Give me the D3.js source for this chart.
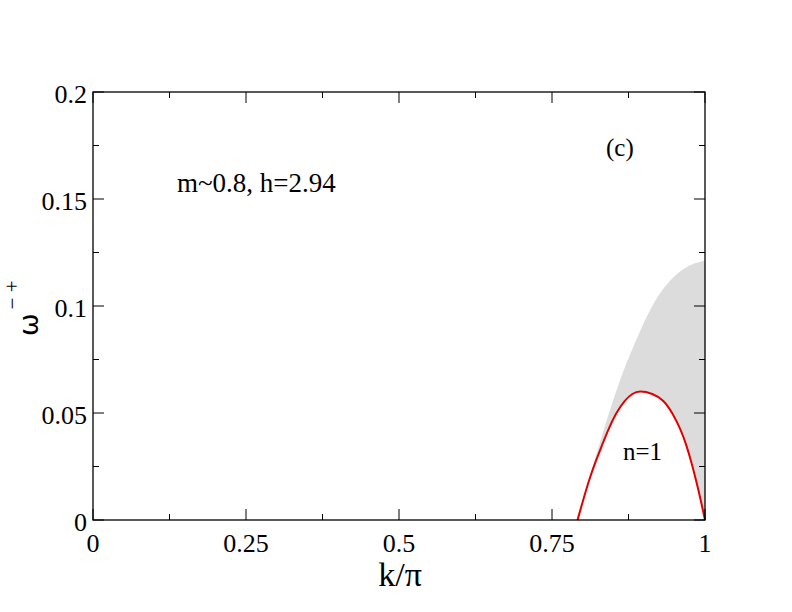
<!DOCTYPE html>
<html>
<head>
<meta charset="utf-8">
<script src="https://cdn.jsdelivr.net/npm/d3@7"></script>
<style>
  body { margin: 0; background: #fff; }
</style>
</head>
<body>
<svg id="main-svg" width="792" height="612" font-family="'Liberation Serif', 'DejaVu Serif', 'Times New Roman', Times, serif"></svg>
<script>
'use strict';

// continuum upper edge (grey band)
const band_k = [0.7917, 0.8106, 0.825, 0.8396, 0.8571, 0.8735, 0.8898, 0.917, 0.9444, 0.9717, 1.0];
const band_w = [0, 0.0195, 0.033, 0.047, 0.0623, 0.0748, 0.0857, 0.1028, 0.1129, 0.1192, 0.1212];

// n=1 string (red)
const n1_k = [0.7917, 0.8025, 0.8106, 0.8200, 0.8309, 0.8417, 0.8543, 0.8690, 0.8817, 0.8925, 0.9144, 0.9324, 0.9471, 0.9607, 0.9705, 0.9782, 0.9853, 0.9918, 1.0];
const n1_w = [0, 0.0109, 0.0187, 0.0265, 0.0343, 0.0421, 0.0499, 0.0561, 0.0592, 0.0604, 0.0592, 0.0561, 0.0499, 0.0421, 0.0343, 0.0265, 0.0187, 0.0109, 0];

const x_ticks = [0, 0.25, 0.5, 0.75, 1];
const x_tick_labels = ['0', '0.25', '0.5', '0.75', '1'];
const y_ticks = [0, 0.05, 0.1, 0.15, 0.2];
const y_tick_labels = ['0', '0.05', '0.1', '0.15', '0.2'];

const margin = {left: 93, right: 87, top: 92, bottom: 92};
const W = 792, H = 612;

const svg = d3.select('#main-svg');

const x = d3.scaleLinear().domain([0, 1]).range([margin.left, W - margin.right]);
const y = d3.scaleLinear().domain([0, 0.2]).range([H - margin.bottom, margin.top]);

const band = band_k.map((k, i) => [k, band_w[i]]);
const n1 = n1_k.map((k, i) => [k, n1_w[i]]);

// grey continuum, then blank out the part under the n=1 string
svg.append('path')
    .datum(band)
    .attr('fill', '#dcdcdc')
    .attr('d', d3.area().x(d => x(d[0])).y0(y(0)).y1(d => y(d[1])).curve(d3.curveBasis));

svg.append('path')
    .datum(n1)
    .attr('fill', '#fff')
    .attr('d', d3.area().x(d => x(d[0])).y0(y(0)).y1(d => y(d[1])).curve(d3.curveBasis));

svg.append('path')
    .datum(n1)
    .attr('fill', 'none')
    .attr('stroke', '#e00000')
    .attr('stroke-width', 2)
    .attr('d', d3.line().x(d => x(d[0])).y(d => y(d[1])).curve(d3.curveBasis));

// frame
svg.append('rect')
    .attr('x', x(0)).attr('y', y(0.2))
    .attr('width', x(1) - x(0)).attr('height', y(0) - y(0.2))
    .attr('fill', 'none').attr('stroke', '#000').attr('stroke-width', 1.3);

// ticks, inward on all four sides
const x_minor = d3.range(0, 1.0001, 0.125);
const y_minor = d3.range(0, 0.2001, 0.025);
const major_len = 11, minor_len = 6;
const is_major = (v, step) => Math.abs(v / step - Math.round(v / step)) < 1e-6;

const ticks = svg.append('g').attr('stroke', '#000').attr('stroke-width', 1);
x_minor.forEach(v => {
    const len = is_major(v, 0.25) ? major_len : minor_len;
    ticks.append('line').attr('x1', x(v)).attr('x2', x(v)).attr('y1', y(0)).attr('y2', y(0) - len);
    ticks.append('line').attr('x1', x(v)).attr('x2', x(v)).attr('y1', y(0.2)).attr('y2', y(0.2) + len);
});
y_minor.forEach(v => {
    const len = is_major(v, 0.05) ? major_len : minor_len;
    ticks.append('line').attr('y1', y(v)).attr('y2', y(v)).attr('x1', x(0)).attr('x2', x(0) + len);
    ticks.append('line').attr('y1', y(v)).attr('y2', y(v)).attr('x1', x(1)).attr('x2', x(1) - len);
});

// tick labels
svg.append('g').selectAll('text')
    .data(x_ticks)
    .enter().append('text')
    .attr('x', d => x(d))
    .attr('y', y(0) + 32)
    .attr('text-anchor', 'middle')
    .attr('font-size', 26)
    .text((d, i) => x_tick_labels[i]);

svg.append('g').selectAll('text')
    .data(y_ticks)
    .enter().append('text')
    .attr('x', x(0) - 6)
    .attr('y', d => y(d) + 10.5)
    .attr('text-anchor', 'end')
    .attr('font-size', 26)
    .text((d, i) => y_tick_labels[i]);

// axis titles
svg.append('text')
    .attr('x', 400).attr('y', 586)
    .attr('text-anchor', 'middle')
    .attr('font-size', 34)
    .text('k/π');

const ylab = svg.append('text')
    .attr('transform', 'translate(38,336) rotate(-90)')
    .attr('font-size', 30);
ylab.append('tspan').attr('font-family', "'DejaVu Sans', sans-serif").attr('font-size', 27).text('ω');
ylab.append('tspan').attr('font-size', 21).attr('dy', -19).attr('dx', 4).text('− +');

// annotations
svg.append('text').attr('x', 177).attr('y', 192).attr('font-size', 27).text('m~0.8, h=2.94');
svg.append('text').attr('x', 606).attr('y', 156).attr('font-size', 25).text('(c)');
svg.append('text').attr('x', 623).attr('y', 460).attr('font-size', 25).text('n=1');
</script>
</body>
</html>
